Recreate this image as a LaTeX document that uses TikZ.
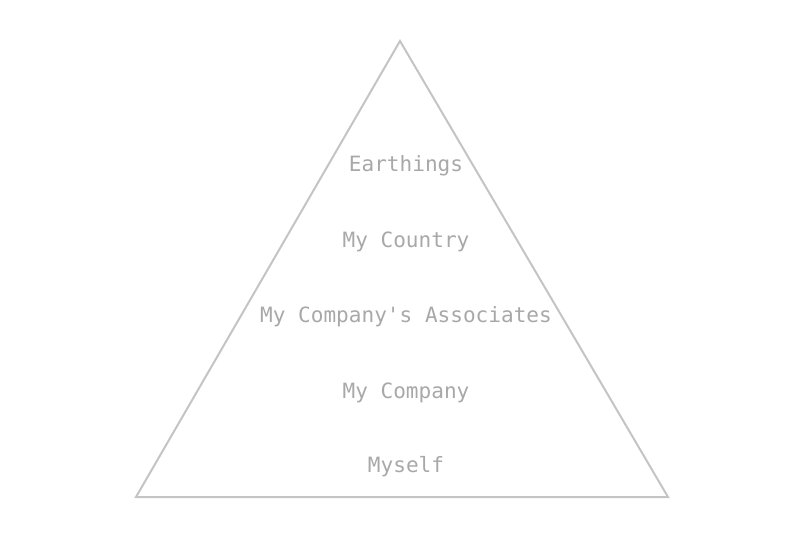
\documentclass[tikz,border=0pt]{standalone}
\usepackage{fontspec}
\setmonofont{DejaVu Sans Mono}
\definecolor{edge}{HTML}{C4C4C4}
\definecolor{txt}{HTML}{A8A8A8}
\begin{document}
\begin{tikzpicture}[x=0.75pt,y=-0.75pt,
  lbl/.style={text=txt,font=\ttfamily\fontsize{15.8}{18}\selectfont,anchor=center,inner sep=0pt}]
\useasboundingbox (0,0) rectangle (800,557);
\coordinate (apex) at (400,41);
\coordinate (bl) at (136,497);
\coordinate (br) at (668,497);
\draw[edge,line width=1.5pt,line join=miter] (apex) -- (br) -- (bl) -- cycle;
\node[lbl] (l1) at (406,166) {Earthings};
\node[lbl] (l2) at (406,242) {My Country};
\node[lbl] (l3) at (406,317) {My Company's Associates};
\node[lbl] (l4) at (406,393) {My Company};
\node[lbl] (l5) at (406,467) {Myself};
\end{tikzpicture}
\end{document}
